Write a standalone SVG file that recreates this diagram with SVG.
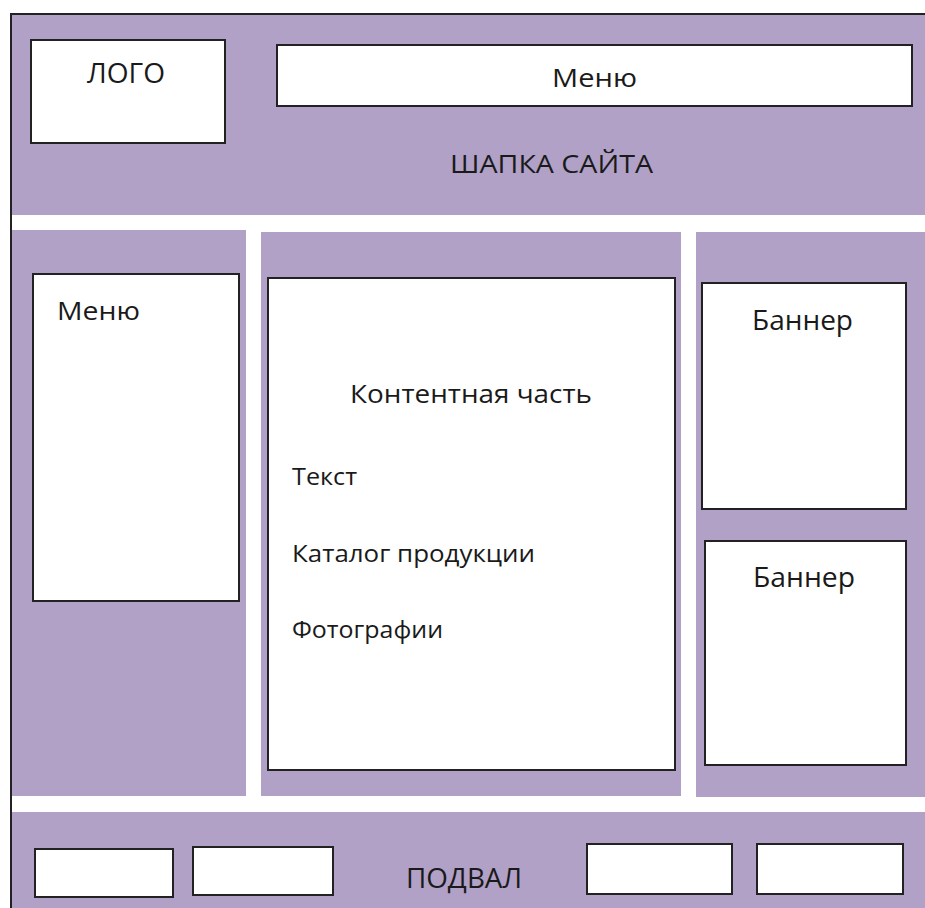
<svg xmlns="http://www.w3.org/2000/svg" width="925" height="908" viewBox="0 0 925 908">
<style>
.bg{fill:#B1A1C7}
.box{fill:#fff;stroke:#222;stroke-width:2}
.t{font-family:"Open Sans","Liberation Sans",sans-serif;fill:#1a1a1a}
.border{stroke:#222;stroke-width:2;fill:none}
</style>
<rect width="925" height="908" fill="#fff"/>
<g id="header">
<rect class="bg" x="11" y="14" width="914" height="201"/>
<text class="t" x="450" y="173" font-size="26" textLength="203" lengthAdjust="spacingAndGlyphs">ШАПКА САЙТА</text>
</g>
<g id="logo">
<rect class="box" x="31" y="40" width="194" height="103"/>
<text class="t" x="87" y="83" font-size="27" textLength="78" lengthAdjust="spacingAndGlyphs">ЛОГО</text>
</g>
<g id="top-menu">
<rect class="box" x="277" y="45" width="635" height="61"/>
<text class="t" x="552" y="87" font-size="26" textLength="85" lengthAdjust="spacingAndGlyphs">Меню</text>
</g>
<g id="left-column">
<rect class="bg" x="11" y="230" width="235" height="566"/>
</g>
<g id="left-menu">
<rect class="box" x="33" y="274" width="206" height="327"/>
<text class="t" x="57" y="320" font-size="26" textLength="83" lengthAdjust="spacingAndGlyphs">Меню</text>
</g>
<g id="center-column">
<rect class="bg" x="261" y="232" width="420" height="564"/>
</g>
<g id="content">
<rect class="box" x="268" y="278" width="407" height="492"/>
<text class="t" x="350" y="403" font-size="25" textLength="242" lengthAdjust="spacingAndGlyphs">Контентная часть</text>
<text class="t" x="292" y="485" font-size="23" textLength="65" lengthAdjust="spacingAndGlyphs">Текст</text>
<text class="t" x="292" y="562" font-size="23" textLength="243" lengthAdjust="spacingAndGlyphs">Каталог продукции</text>
<text class="t" x="292" y="638" font-size="23" textLength="151" lengthAdjust="spacingAndGlyphs">Фотографии</text>
</g>
<g id="right-column">
<rect class="bg" x="696" y="232" width="229" height="565"/>
</g>
<g id="banner-1">
<rect class="box" x="702" y="283" width="204" height="226"/>
<text class="t" x="752" y="330" font-size="27" textLength="101" lengthAdjust="spacingAndGlyphs">Баннер</text>
</g>
<g id="banner-2">
<rect class="box" x="705" y="541" width="201" height="224"/>
<text class="t" x="753" y="587" font-size="27" textLength="102" lengthAdjust="spacingAndGlyphs">Баннер</text>
</g>
<g id="footer">
<rect class="bg" x="11" y="812" width="914" height="96"/>
<text class="t" x="406" y="888" font-size="27" textLength="116" lengthAdjust="spacingAndGlyphs">ПОДВАЛ</text>
</g>
<g id="footer-box-1"><rect class="box" x="35" y="849" width="138" height="48"/></g>
<g id="footer-box-2"><rect class="box" x="193" y="847" width="140" height="48"/></g>
<g id="footer-box-3"><rect class="box" x="587" y="844" width="145" height="50"/></g>
<g id="footer-box-4"><rect class="box" x="757" y="844" width="146" height="50"/></g>
<g id="outer-border">
<path class="border" d="M11,908 V14 H925"/>
</g>
</svg>
